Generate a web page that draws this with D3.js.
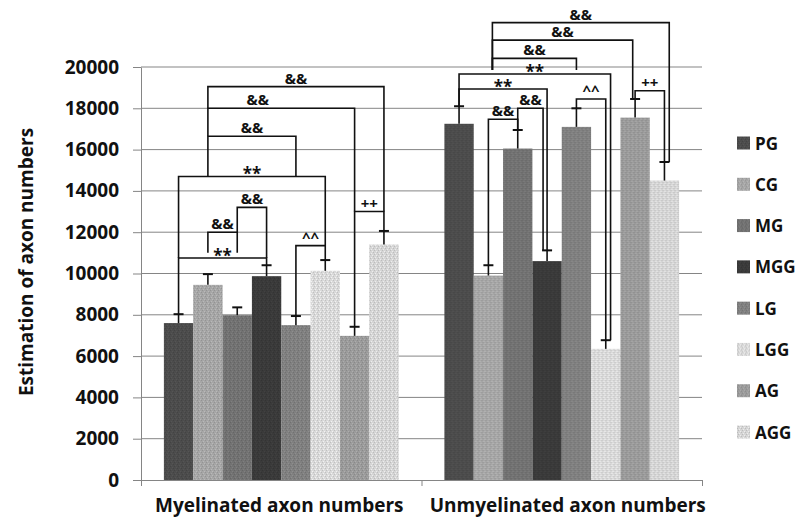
<!DOCTYPE html>
<html>
<head>
<meta charset="utf-8">
<script src="https://cdn.jsdelivr.net/npm/d3@7"></script>
<style>
  html, body { margin: 0; padding: 0; background: #ffffff; }
  svg { display: block; font-family: "Open Sans", "DejaVu Sans", sans-serif; }
</style>
</head>
<body>
<svg id="chart" width="805" height="519"></svg>
<script>
// ---- data ----
const categories = ["Myelinated axon numbers", "Unmyelinated axon numbers"];
const groups = ["PG", "CG", "MG", "MGG", "LG", "LGG", "AG", "AGG"];
const myelinated      = [7600, 9450, 7980, 9870, 7500, 10130, 6980, 11400];
const myelinatedErr   = [430, 520, 380, 530, 440, 520, 440, 660];
const unmyelinated    = [17250, 9900, 16050, 10600, 17100, 6350, 17550, 14500];
const unmyelinatedErr = [850, 500, 900, 520, 900, 420, 900, 900];
const yTicks = [0, 2000, 4000, 6000, 8000, 10000, 12000, 14000, 16000, 18000, 20000];

// significance brackets: category, from/to group, bracket level, where each leg stops
// (null = top of that group's error bar), optional leg lanes and label anchor (group index)
const brackets = [
  { cat: 0, from: 0, to: 3, level: 10750, fromEnd: null,  toEnd: null,  label: "**" },
  { cat: 0, from: 1, to: 2, level: 12000, fromEnd: 11000, toEnd: 11000, label: "&&" },
  { cat: 0, from: 2, to: 3, level: 13200, fromEnd: 12000, toEnd: 10750, label: "&&" },
  { cat: 0, from: 0, to: 5, level: 14700, fromEnd: 10750, toEnd: 11350, label: "**" },
  { cat: 0, from: 4, to: 5, level: 11350, fromEnd: null,  toEnd: null,  label: "^^" },
  { cat: 0, from: 1, to: 4, level: 16650, fromEnd: 14700, toEnd: 14700, label: "&&" },
  { cat: 0, from: 1, to: 6, level: 18000, fromEnd: 16650, toEnd: 13000, label: "&&", labelAt: 2.7 },
  { cat: 0, from: 1, to: 7, level: 19050, fromEnd: 18000, toEnd: 13000, label: "&&" },
  { cat: 0, from: 6, to: 7, level: 13000, fromEnd: null,  toEnd: null,  label: "++" },

  { cat: 1, from: 1, to: 7, level: 22150, fromEnd: 19850, toEnd: null,  label: "&&", fromLane: 1, toLane: 1.2 },
  { cat: 1, from: 1, to: 6, level: 21300, fromEnd: 19850, toEnd: null,  label: "&&", fromLane: 1, toLane: -0.6 },
  { cat: 1, from: 1, to: 4, level: 20420, fromEnd: 19850, toEnd: 19850, label: "&&", fromLane: 1 },
  { cat: 1, from: 0, to: 5, level: 19660, fromEnd: null,  toEnd: null,  label: "**", toLane: 1.2 },
  { cat: 1, from: 0, to: 3, level: 18935, fromEnd: null,  toEnd: null,  label: "**" },
  { cat: 1, from: 2, to: 3, level: 18000, fromEnd: null,  toEnd: null,  label: "&&", toLane: -1 },
  { cat: 1, from: 1, to: 2, level: 17470, fromEnd: null,  toEnd: null,  label: "&&" },
  { cat: 1, from: 4, to: 5, level: 18450, fromEnd: null,  toEnd: null,  label: "^^" },
  { cat: 1, from: 6, to: 7, level: 18850, fromEnd: null,  toEnd: null,  label: "++" }
];

// ---- styling ----
const palette = ["#4c4c4c", "#a6a6a6", "#727272", "#3a3a3a", "#808080", "#d9d9d9", "#9b9b9b", "#d5d5d5"];
const ink = "#111111";

const values = [myelinated, unmyelinated];
const errors = [myelinatedErr, unmyelinatedErr];

const svg = d3.select("#chart");
const plot = { left: 141, right: 702, top: 67, bottom: 480 };

// fine stipple fills for the bars
const defs = svg.append("defs");
palette.forEach((c, i) => {
  const p = defs.append("pattern")
    .attr("id", "fill" + i)
    .attr("patternUnits", "userSpaceOnUse")
    .attr("width", 4).attr("height", 4);
  p.append("rect").attr("width", 4).attr("height", 4).attr("fill", c);
  const dk = d3.color(c).darker(0.35).formatHex();
  const lt = d3.color(c).brighter(0.3).formatHex();
  [[0, 0, dk], [2, 1, lt], [1, 2, dk], [3, 3, lt]].forEach(([px, py, col]) =>
    p.append("rect").attr("x", px).attr("y", py).attr("width", 1).attr("height", 1).attr("fill", col));
});

const x0 = d3.scaleBand().domain(categories).range([plot.left, plot.right]).padding(0);
const x1 = d3.scaleBand().domain(groups).range([0, x0.bandwidth()]).paddingInner(0).paddingOuter(0.78);
const y = d3.scaleLinear().domain([0, 20000]).range([plot.bottom, plot.top]);
const laneGap = 4;

const barCenter = (ci, gi, lane = 0) =>
  x0(categories[ci]) + x1(groups[gi]) + x1.bandwidth() / 2 + lane * laneGap;

// gridlines
svg.append("g")
  .selectAll("line")
  .data(yTicks.filter(t => t > 0))
  .join("line")
  .attr("x1", plot.left).attr("x2", plot.right)
  .attr("y1", d => y(d)).attr("y2", d => y(d))
  .attr("stroke", "#858585").attr("stroke-width", 1);

// bars
const catG = svg.append("g")
  .selectAll("g")
  .data(categories)
  .join("g")
  .attr("transform", c => `translate(${x0(c)},0)`);

const rows = (c, ci) => groups.map((g, gi) => ({ g, gi, v: values[ci][gi], e: errors[ci][gi] }));

catG.selectAll("rect")
  .data(rows)
  .join("rect")
  .attr("x", d => x1(d.g))
  .attr("y", d => y(d.v))
  .attr("width", x1.bandwidth())
  .attr("height", d => y(0) - y(d.v))
  .attr("fill", d => `url(#fill${d.gi})`);

// error bars (upper whisker only)
const eb = catG.selectAll("g.err")
  .data(rows)
  .join("g").attr("class", "err");
eb.append("line")
  .attr("x1", d => x1(d.g) + x1.bandwidth() / 2)
  .attr("x2", d => x1(d.g) + x1.bandwidth() / 2)
  .attr("y1", d => y(d.v)).attr("y2", d => y(d.v + d.e))
  .attr("stroke", ink).attr("stroke-width", 1.6);
eb.append("line")
  .attr("x1", d => x1(d.g) + x1.bandwidth() / 2 - 5)
  .attr("x2", d => x1(d.g) + x1.bandwidth() / 2 + 5)
  .attr("y1", d => y(d.v + d.e)).attr("y2", d => y(d.v + d.e))
  .attr("stroke", ink).attr("stroke-width", 2);

// y axis
const yAxis = svg.append("g")
  .attr("transform", `translate(${plot.left},0)`)
  .call(d3.axisLeft(y).tickValues(yTicks).tickSize(8).tickSizeOuter(0).tickPadding(14).tickFormat(d3.format("d")));
yAxis.select(".domain").attr("stroke", "#858585");
yAxis.selectAll(".tick line").attr("stroke", "#858585");
yAxis.selectAll(".tick text")
  .attr("fill", ink)
  .style("font-family", "'Open Sans', sans-serif")
  .style("font-size", "19px")
  .style("font-weight", "700");

// x axis with category boundary ticks
const xAxis = svg.append("g")
  .attr("transform", `translate(0,${plot.bottom})`)
  .call(d3.axisBottom(d3.scaleLinear().domain([0, categories.length]).range([plot.left, plot.right]))
    .ticks(categories.length).tickSize(6).tickSizeOuter(0).tickFormat(""));
xAxis.select(".domain").attr("stroke", "#858585");
xAxis.selectAll(".tick line").attr("stroke", "#858585");

svg.append("g")
  .selectAll("text")
  .data(categories)
  .join("text")
  .attr("x", (c, i) => x0(c) + x0.bandwidth() / 2 + (i === 0 ? -2 : 6))
  .attr("y", 512)
  .attr("text-anchor", "middle")
  .attr("fill", ink)
  .style("font-size", "19px")
  .style("font-weight", "700")
  .text(c => c);

// y axis title
svg.append("text")
  .attr("transform", "translate(33,262) rotate(-90)")
  .attr("text-anchor", "middle")
  .attr("fill", ink)
  .style("font-size", "19px")
  .style("font-weight", "700")
  .text("Estimation of axon numbers");

// significance brackets
const capTop = (ci, gi) => values[ci][gi] + errors[ci][gi];
const br = svg.append("g");
brackets.forEach(b => {
  const xa = barCenter(b.cat, b.from, b.fromLane || 0);
  const xb = barCenter(b.cat, b.to, b.toLane || 0);
  const ya = y(b.fromEnd == null ? capTop(b.cat, b.from) : b.fromEnd);
  const yb = y(b.toEnd == null ? capTop(b.cat, b.to) : b.toEnd);
  const yl = y(b.level);
  br.append("path")
    .attr("d", `M${xa},${ya}V${yl}H${xb}V${yb}`)
    .attr("fill", "none")
    .attr("stroke", ink)
    .attr("stroke-width", 1.6);
  const lx = b.labelAt != null
    ? barCenter(b.cat, Math.floor(b.labelAt)) + (b.labelAt % 1) * x1.bandwidth()
    : (xa + xb) / 2;
  const star = b.label === "**";
  br.append("text")
    .attr("x", lx)
    .attr("y", yl + (star ? 4 : -3))
    .attr("text-anchor", "middle")
    .attr("fill", ink)
    .style("font-size", star ? "17px" : "15px")
    .style("font-weight", "700")
    .text(b.label);
});

// legend
const ly = d3.scalePoint().domain(groups).range([143, 432]);
const lg = svg.append("g")
  .selectAll("g")
  .data(groups)
  .join("g")
  .attr("transform", g => `translate(737,${ly(g)})`);
lg.append("rect")
  .attr("x", 0).attr("y", -6.5)
  .attr("width", 13).attr("height", 13)
  .attr("fill", (g, i) => `url(#fill${i})`);
lg.append("text")
  .attr("x", 18).attr("y", 0)
  .attr("dominant-baseline", "central")
  .attr("fill", ink)
  .style("font-size", "17px")
  .style("font-weight", "700")
  .text(g => g);
</script>
</body>
</html>
